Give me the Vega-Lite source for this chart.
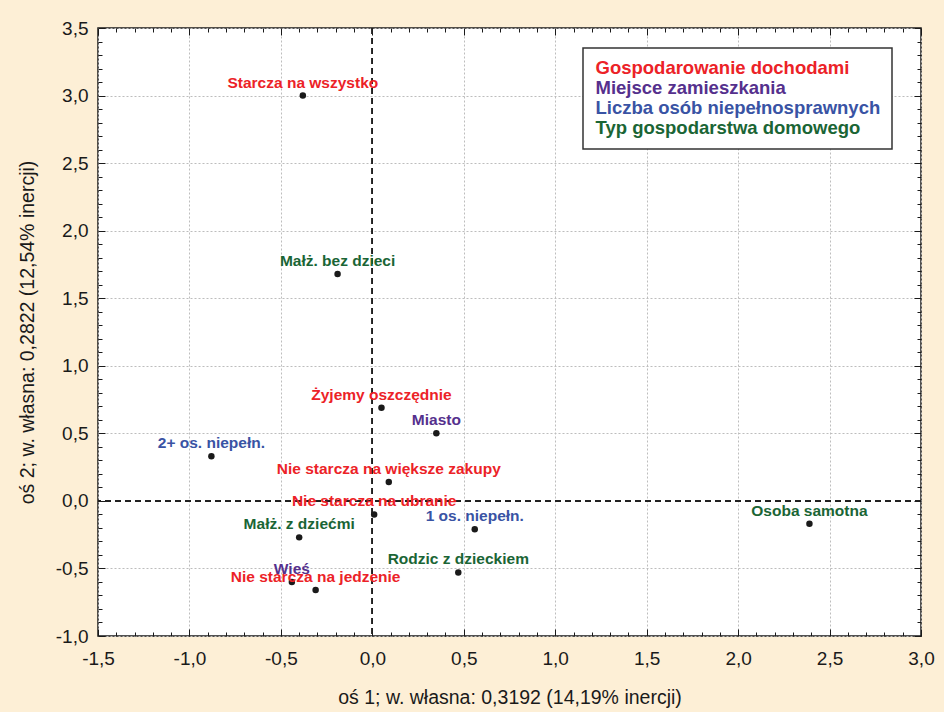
{
  "$schema": "https://vega.github.io/schema/vega-lite/v6.json",
  "width": 823,
  "height": 608,
  "autosize": "none",
  "padding": {"left": 98, "top": 28, "right": 23, "bottom": 76},
  "background": "#FDEFD6",
  "config": {
    "view": {"fill": "white", "stroke": "#1a1a1a", "strokeWidth": 1.5},
    "axis": {
      "labelFont": "Liberation Sans, Arial, sans-serif",
      "titleFont": "Liberation Sans, Arial, sans-serif",
      "labelFontSize": 19,
      "titleFontSize": 19.5,
      "titleFontWeight": "normal",
      "labelColor": "#1a1a1a",
      "titleColor": "#1a1a1a",
      "tickColor": "#1a1a1a",
      "domain": false,
      "labelOverlap": false,
      "labelFlush": false,
      "labelBound": false
    }
  },
  "data": {
    "values": [
      {"label": "Starcza na wszystko", "group": "Gospodarowanie dochodami", "x": -0.38, "y": 3.0},
      {"label": "Żyjemy oszczędnie", "group": "Gospodarowanie dochodami", "x": 0.05, "y": 0.69},
      {"label": "Nie starcza na większe zakupy", "group": "Gospodarowanie dochodami", "x": 0.09, "y": 0.14},
      {"label": "Nie starcza na ubranie", "group": "Gospodarowanie dochodami", "x": 0.01, "y": -0.1},
      {"label": "Nie starcza na jedzenie", "group": "Gospodarowanie dochodami", "x": -0.31, "y": -0.66},
      {"label": "Miasto", "group": "Miejsce zamieszkania", "x": 0.35, "y": 0.5},
      {"label": "Wieś", "group": "Miejsce zamieszkania", "x": -0.44, "y": -0.6},
      {"label": "2+ os. niepełn.", "group": "Liczba osób niepełnosprawnych", "x": -0.88, "y": 0.33},
      {"label": "1 os. niepełn.", "group": "Liczba osób niepełnosprawnych", "x": 0.56, "y": -0.21},
      {"label": "Małż. bez dzieci", "group": "Typ gospodarstwa domowego", "x": -0.19, "y": 1.68},
      {"label": "Małż. z dziećmi", "group": "Typ gospodarstwa domowego", "x": -0.4, "y": -0.27},
      {"label": "Rodzic z dzieckiem", "group": "Typ gospodarstwa domowego", "x": 0.47, "y": -0.53},
      {"label": "Osoba samotna", "group": "Typ gospodarstwa domowego", "x": 2.39, "y": -0.17}
    ]
  },
  "resolve": {"axis": {"x": "independent", "y": "independent"}},
  "layer": [
    {
      "mark": {"type": "rule", "color": "#222", "strokeDash": [6, 4], "strokeWidth": 1},
      "encoding": {"x": {"datum": 0, "type": "quantitative", "axis": null, "scale": {"domain": [-1.5, 3.0], "nice": false, "zero": false}}}
    },
    {
      "mark": {"type": "rule", "color": "#222", "strokeDash": [6, 4], "strokeWidth": 1},
      "encoding": {"y": {"datum": 0, "type": "quantitative", "axis": null, "scale": {"domain": [-1.0, 3.5], "nice": false, "zero": false}}}
    },
    {
      "mark": {"type": "point", "filled": true, "color": "#1a1a1a", "size": 42, "opacity": 1},
      "encoding": {
        "x": {
          "field": "x", "type": "quantitative",
          "scale": {"domain": [-1.5, 3.0], "nice": false, "zero": false},
          "axis": {
            "orient": "bottom",
            "title": "oś 1; w. własna: 0,3192 (14,19% inercji)",
            "titlePadding": 17,
            "values": [-1.5,-1.4,-1.3,-1.2,-1.1,-1.0,-0.9,-0.8,-0.7,-0.6,-0.5,-0.4,-0.3,-0.2,-0.1,0,0.1,0.2,0.3,0.4,0.5,0.6,0.7,0.8,0.9,1.0,1.1,1.2,1.3,1.4,1.5,1.6,1.7,1.8,1.9,2.0,2.1,2.2,2.3,2.4,2.5,2.6,2.7,2.8,2.9,3.0],
            "labelExpr": "abs(datum.value*2 - round(datum.value*2)) < 0.000001 ? replace(replace(format(datum.value, '.1f'), '.', ','), '−', '-') : ''",
            "tickSize": {"condition": {"test": "abs(datum.value*2 - round(datum.value*2)) < 0.000001", "value": -7}, "value": -4},
            "labelPadding": 20,
            "grid": true,
            "gridColor": "#BDBDBD",
            "gridDash": [2, 2],
            "gridWidth": 1,
            "gridOpacity": {"condition": {"test": "abs(datum.value*2 - round(datum.value*2)) < 0.000001 && abs(datum.value) > 0.000001", "value": 1}, "value": 0}
          }
        },
        "y": {
          "field": "y", "type": "quantitative",
          "scale": {"domain": [-1.0, 3.5], "nice": false, "zero": false},
          "axis": {
            "orient": "left",
            "title": "oś 2; w. własna: 0,2822 (12,54% inercji)",
            "titlePadding": 18,
            "values": [-1.0,-0.9,-0.8,-0.7,-0.6,-0.5,-0.4,-0.3,-0.2,-0.1,0,0.1,0.2,0.3,0.4,0.5,0.6,0.7,0.8,0.9,1.0,1.1,1.2,1.3,1.4,1.5,1.6,1.7,1.8,1.9,2.0,2.1,2.2,2.3,2.4,2.5,2.6,2.7,2.8,2.9,3.0,3.1,3.2,3.3,3.4,3.5],
            "labelExpr": "abs(datum.value*2 - round(datum.value*2)) < 0.000001 ? replace(replace(format(datum.value, '.1f'), '.', ','), '−', '-') : ''",
            "tickSize": {"condition": {"test": "abs(datum.value*2 - round(datum.value*2)) < 0.000001", "value": -7}, "value": -4},
            "labelPadding": 17,
            "grid": true,
            "gridColor": "#BDBDBD",
            "gridDash": [2, 2],
            "gridWidth": 1,
            "gridOpacity": {"condition": {"test": "abs(datum.value*2 - round(datum.value*2)) < 0.000001 && abs(datum.value) > 0.000001", "value": 1}, "value": 0}
          }
        }
      }
    },
    {
      "mark": {"type": "text", "font": "Liberation Sans, Arial, sans-serif", "fontWeight": "bold", "fontSize": 15.5, "dy": -8, "baseline": "alphabetic", "align": "center"},
      "encoding": {
        "x": {
          "field": "x", "type": "quantitative",
          "axis": {
            "orient": "top", "title": null, "labels": false, "grid": false,
            "values": [-1.5,-1.4,-1.3,-1.2,-1.1,-1.0,-0.9,-0.8,-0.7,-0.6,-0.5,-0.4,-0.3,-0.2,-0.1,0,0.1,0.2,0.3,0.4,0.5,0.6,0.7,0.8,0.9,1.0,1.1,1.2,1.3,1.4,1.5,1.6,1.7,1.8,1.9,2.0,2.1,2.2,2.3,2.4,2.5,2.6,2.7,2.8,2.9,3.0],
            "tickSize": {"condition": {"test": "abs(datum.value*2 - round(datum.value*2)) < 0.000001", "value": -7}, "value": -4}
          }
        },
        "y": {
          "field": "y", "type": "quantitative",
          "axis": {
            "orient": "right", "title": null, "labels": false, "grid": false,
            "values": [-1.0,-0.9,-0.8,-0.7,-0.6,-0.5,-0.4,-0.3,-0.2,-0.1,0,0.1,0.2,0.3,0.4,0.5,0.6,0.7,0.8,0.9,1.0,1.1,1.2,1.3,1.4,1.5,1.6,1.7,1.8,1.9,2.0,2.1,2.2,2.3,2.4,2.5,2.6,2.7,2.8,2.9,3.0,3.1,3.2,3.3,3.4,3.5],
            "tickSize": {"condition": {"test": "abs(datum.value*2 - round(datum.value*2)) < 0.000001", "value": -7}, "value": -4}
          }
        },
        "text": {"field": "label"},
        "color": {
          "field": "group", "type": "nominal",
          "scale": {
            "domain": ["Gospodarowanie dochodami", "Miejsce zamieszkania", "Liczba osób niepełnosprawnych", "Typ gospodarstwa domowego"],
            "range": ["#EC2227", "#55308D", "#3953A4", "#1A6535"]
          },
          "legend": {
            "orient": "none",
            "legendX": 485,
            "legendY": 20,
            "title": null,
            "symbolType": "circle",
            "symbolSize": 1,
            "symbolStrokeWidth": 0,
            "symbolOpacity": 0,
            "labelOffset": -17,
            "labelFont": "Liberation Sans, Arial, sans-serif",
            "labelFontSize": 18.5,
            "labelFontWeight": "bold",
            "labelLimit": 500,
            "fillColor": "white",
            "strokeColor": "#333333",
            "padding": 11,
            "rowPadding": 1,
            "encode": {
              "labels": {"update": {"fill": {"scale": "color", "field": "value"}}},
              "legend": {"update": {"strokeWidth": {"value": 1.5}}}
            }
          }
        }
      }
    }
  ]
}
